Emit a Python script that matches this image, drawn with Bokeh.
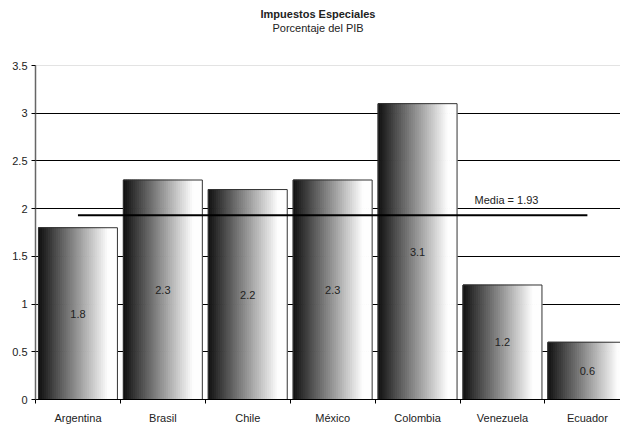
from bokeh.plotting import figure
from bokeh.models import FixedTicker, Span, Range1d, Label, NumeralTickFormatter, Title
from bokeh.embed import file_html
from bokeh.resources import INLINE

# ---- data ----
countries = ["Argentina", "Brasil", "Chile", "México", "Colombia", "Venezuela", "Ecuador"]
values = [1.8, 2.3, 2.2, 2.3, 3.1, 1.2, 0.6]
value_labels = ["1.8", "2.3", "2.2", "2.3", "3.1", "1.2", "0.6"]
mean_value = 1.93
mean_label = "Media = 1.93"
y_ticks = [0, 0.5, 1, 1.5, 2, 2.5, 3, 3.5]
title_text = "Impuestos Especiales"
subtitle_text = "Porcentaje del PIB"

# ---- style ----
FONT = "Liberation Sans"
BAR_W = 0.93
N_STRIPES = 40
TXT = "#222222"

idx = list(range(len(countries)))

p = figure(width=620, height=426,
           x_range=Range1d(-0.5, 6.39), y_range=Range1d(y_ticks[0], y_ticks[-1]),
           output_backend="svg", toolbar_location=None,
           min_border_left=35, min_border_right=0, min_border_top=65, min_border_bottom=0)
p.outline_line_color = None
p.background_fill_color = "white"
p.border_fill_color = "white"

# titles (first added sits closest to the plot; the blank one is a spacer)
p.add_layout(Title(text=" ", standoff=18, text_font=FONT, text_font_size="11px"), "above")
p.add_layout(Title(text=subtitle_text, align="left", offset=237, standoff=0,
                   text_font=FONT, text_font_size="11px", text_font_style="normal",
                   text_color=TXT), "above")
p.add_layout(Title(text=title_text, align="left", offset=225, standoff=0,
                   text_font=FONT, text_font_size="11px", text_font_style="bold",
                   text_color=TXT), "above")

# grid
p.xgrid.visible = False
p.ygrid.ticker = FixedTicker(ticks=y_ticks[1:-1])
p.ygrid.grid_line_color = "black"
p.ygrid.grid_line_width = 1
p.add_layout(Span(location=y_ticks[-1], dimension="width", line_color="#c8c8c8",
                  line_width=1, level="underlay"))

# gradient bars: thin stripes from dark to white
left, right, top, colors = [], [], [], []
for i, v in zip(idx, values):
    x0 = i - BAR_W / 2
    for k in range(N_STRIPES):
        t = k / (N_STRIPES - 1)
        tt = min(1.0, t / 0.9)
        g = int(round(18 + (254 - 18) * tt))
        left.append(x0 + BAR_W * k / N_STRIPES)
        right.append(x0 + BAR_W * (k + 1) / N_STRIPES)
        top.append(v)
        colors.append("#%02x%02x%02x" % (g, g, g))
p.quad(left=left, right=right, bottom=0, top=top, fill_color=colors,
       line_color=colors, line_width=1)
p.vbar(x=idx, top=values, width=BAR_W, fill_color=None, line_color="#333333", line_width=1)

# value labels
p.text(x=idx, y=[v / 2 for v in values], text=value_labels, text_align="center",
       text_baseline="middle", text_font={"value": FONT}, text_font_size="11px", text_color=TXT)

# mean line
p.line(x=[idx[0], idx[-1]], y=[mean_value, mean_value], line_color="black", line_width=2)
p.add_layout(Label(x=idx[4], y=mean_value, x_offset=57, y_offset=15, text=mean_label,
                   text_font=FONT, text_font_size="11px", text_color=TXT,
                   text_baseline="alphabetic", text_align="left"))

# x axis
xa = p.xaxis[0]
xa.ticker = FixedTicker(ticks=idx, minor_ticks=[i + 0.5 for i in range(-1, len(countries))])
xa.major_label_overrides = {i: c for i, c in zip(idx, countries)}
xa.major_tick_out = 0
xa.major_tick_in = 0
xa.minor_tick_out = 4
xa.minor_tick_in = 0
xa.minor_tick_line_color = "black"
xa.axis_line_color = "black"
xa.major_label_standoff = 8
xa.major_label_text_font = FONT
xa.major_label_text_font_size = "11px"
xa.major_label_text_color = TXT

# y axis
ya = p.yaxis[0]
ya.ticker = FixedTicker(ticks=y_ticks)
ya.formatter = NumeralTickFormatter(format="0.[0]")
ya.major_tick_out = 4
ya.major_tick_in = 0
ya.minor_tick_line_color = None
ya.axis_line_color = "#666666"
ya.axis_line_width = 1.5
ya.major_tick_line_color = "black"
ya.major_label_standoff = 4
ya.major_label_text_font = FONT
ya.major_label_text_font_size = "11px"
ya.major_label_text_color = TXT

open("out.html", "w").write(file_html(p, INLINE))
